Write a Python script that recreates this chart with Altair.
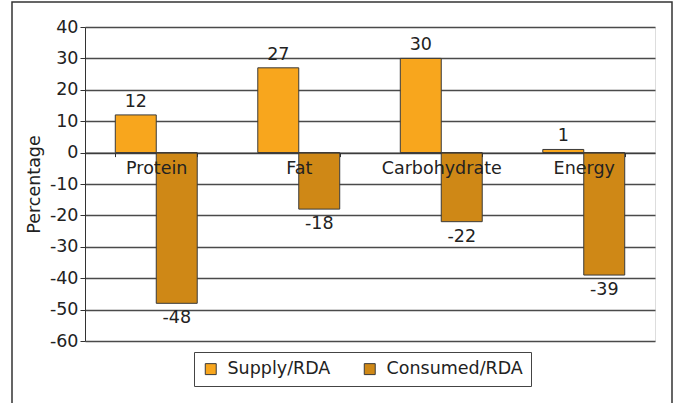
import altair as alt
import pandas as pd

categories = ["Protein", "Fat", "Carbohydrate", "Energy"]
supply = [12, 27, 30, 1]
consumed = [-48, -18, -22, -39]
series = ["Supply/RDA", "Consumed/RDA"]
colors = ["#F8A61D", "#CF8816"]
y_ticks = [-60, -50, -40, -30, -20, -10, 0, 10, 20, 30, 40]

rows = []
for i, c in enumerate(categories):
    rows.append({"cat": c, "series": series[0], "value": supply[i]})
    rows.append({"cat": c, "series": series[1], "value": consumed[i]})
df = pd.DataFrame(rows)
df["label"] = df["value"].astype(str)

W, H = 570, 314
FONT = "DejaVu Sans"
FS = 17.5
ymin, ymax = -60, 40
zero_offset = -H * (0 - ymin) / (ymax - ymin)

xscale = alt.Scale(domain=categories, paddingInner=0.425, paddingOuter=0.2125)
yscale = alt.Scale(domain=[ymin, ymax], nice=False)

yaxis = alt.Axis(title="Percentage", values=y_ticks, labelOverlap=False,
                 labelExpr="'' + datum.value",
                 grid=True, gridColor="#4a4a4a", gridWidth=1.4,
                 domainColor="#333333", tickColor="#333333", tickSize=5,
                 labelFont=FONT, labelFontSize=FS, labelColor="#222222",
                 titleFont=FONT, titleFontSize=FS, titleFontWeight="normal",
                 titleColor="#222222", titlePadding=6, labelPadding=2)

frame = alt.Chart(pd.DataFrame({"a": [0]})).mark_rect(
    fill=None, stroke="#333333", strokeWidth=1.5, clip=False
).encode(
    x=alt.value(-73), x2=alt.value(587), y=alt.value(-25), y2=alt.value(420)
)

base = alt.Chart(df).encode(
    x=alt.X("cat:N", scale=xscale, sort=categories,
            axis=alt.Axis(title=None, orient="bottom", offset=zero_offset,
                          tickBand="extent", domainColor="#333333", tickColor="#333333",
                          tickSize=4, labelAngle=0, labelFont=FONT, labelFontSize=FS,
                          labelColor="#222222", labelPadding=3, zindex=1, grid=False)),
    xOffset=alt.XOffset("series:N", sort=series, scale=alt.Scale(domain=series)),
    y=alt.Y("value:Q", scale=yscale, axis=yaxis),
)

bars = base.mark_bar(stroke="#3a3a3a", strokeWidth=1).encode(
    color=alt.Color("series:N", sort=series,
                    scale=alt.Scale(domain=series, range=colors),
                    legend=alt.Legend(title=None, orient="none", direction="horizontal",
                                      legendX=109, legendY=325, symbolType="square",
                                      symbolSize=120, symbolStrokeColor="#3a3a3a",
                                      symbolStrokeWidth=1, labelFont=FONT,
                                      labelFontSize=FS, labelColor="#222222",
                                      strokeColor="#444444", padding=8,
                                      columnPadding=30, labelOffset=8)),
)

pos_labels = base.transform_filter("datum.value >= 0").mark_text(
    baseline="bottom", dy=-4, font=FONT, fontSize=FS, color="#222222"
).encode(text="label:N")

neg_labels = base.transform_filter("datum.value < 0").mark_text(
    baseline="top", dy=6, font=FONT, fontSize=FS, color="#222222"
).encode(text="label:N")

chart = alt.layer(bars, pos_labels, neg_labels, frame).properties(
    width=W, height=H,
    padding={"left": 85, "top": 27, "right": 24, "bottom": 62},
    autosize=alt.AutoSizeParams(type="none"),
).configure_view(fill="#DCDDDF", stroke="#555555", strokeWidth=1.5).configure(background="white")

chart.save("out.html", embed_options={"renderer": "svg", "actions": False})
